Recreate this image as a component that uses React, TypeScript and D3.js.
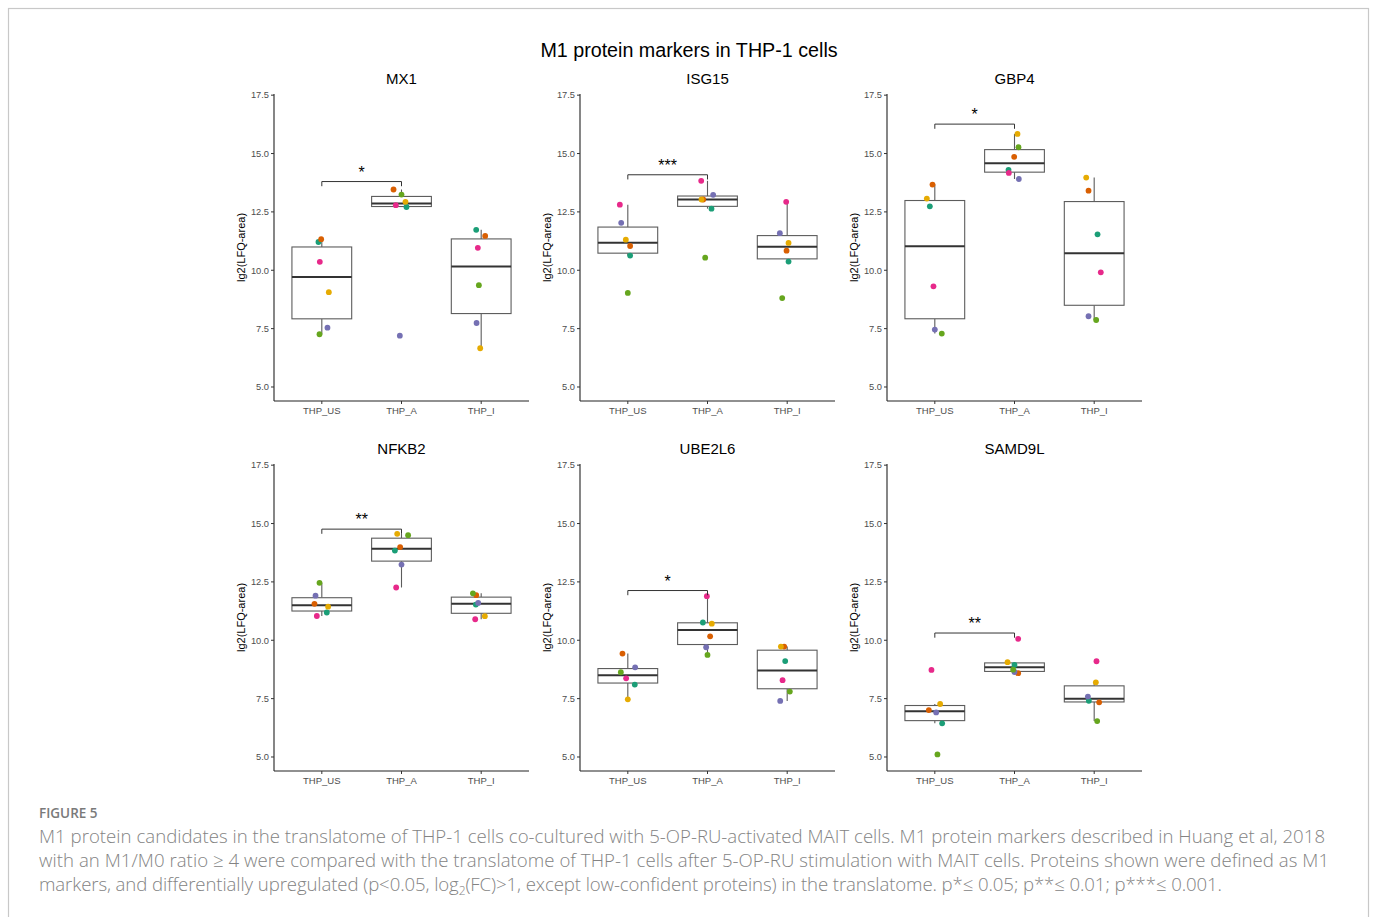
import React from "react";
import * as d3 from "d3";

// ---------- data ----------
const groups = ["THP_US", "THP_A", "THP_I"];
const proteins = ["MX1", "ISG15", "GBP4", "NFKB2", "UBE2L6", "SAMD9L"];
// donor order: teal, orange, purple, pink, green, yellow (Dark2)
const donorColors = ["#1B9E77", "#D95F02", "#7570B3", "#E7298A", "#66A61E", "#E6AB02"];

const MX1 = [
  [11.21, 11.33, 7.54, 10.36, 7.26, 9.06],
  [12.71, 13.46, 7.2, 12.79, 13.24, 12.93],
  [11.73, 11.47, 7.74, 10.96, 9.36, 6.66],
];
const ISG15 = [
  [10.63, 11.04, 12.03, 12.81, 9.03, 11.31],
  [12.64, 13.03, 13.23, 13.83, 10.54, 13.03],
  [10.37, 10.84, 11.59, 12.93, 8.81, 11.17],
];
const GBP4 = [
  [12.74, 13.67, 7.46, 9.31, 7.29, 13.07],
  [14.3, 14.86, 13.91, 14.17, 15.27, 15.84],
  [11.54, 13.41, 8.03, 9.91, 7.87, 13.97],
];
const NFKB2 = [
  [11.19, 11.56, 11.91, 11.04, 12.46, 11.44],
  [13.84, 13.99, 13.24, 12.26, 14.5, 14.56],
  [11.53, 11.93, 11.6, 10.9, 12.01, 11.03],
];
const UBE2L6 = [
  [8.1, 9.43, 8.84, 8.37, 8.63, 7.47],
  [10.76, 10.17, 9.7, 11.89, 9.37, 10.71],
  [9.11, 9.73, 7.4, 8.29, 7.8, 9.73],
];
const SAMD9L = [
  [6.44, 7.01, 6.91, 8.73, 5.11, 7.27],
  [8.94, 8.59, 8.64, 10.06, 8.74, 9.06],
  [7.41, 7.34, 7.59, 9.1, 6.54, 8.2],
];
// horizontal jitter, in category units
const MX1_jitter = [
  [-0.042, -0.008, 0.071, -0.025, -0.029, 0.088],
  [0.0625, -0.1, -0.021, -0.071, 0, 0.05],
  [-0.0625, 0.05, -0.058, -0.042, -0.029, -0.0125],
];
const ISG15_jitter = [
  [0.029, 0.029, -0.083, -0.1, 0, -0.025],
  [0.05, -0.054, 0.071, -0.079, -0.029, -0.075],
  [0.017, -0.008, -0.092, -0.0125, -0.0625, 0.017],
];
const GBP4_jitter = [
  [-0.0625, -0.029, 0, -0.017, 0.0875, -0.1],
  [-0.075, -0.004, 0.054, -0.071, 0.05, 0.0375],
  [0.042, -0.071, -0.071, 0.083, 0.025, -0.1],
];
const NFKB2_jitter = [
  [0.0625, -0.092, -0.079, -0.0625, -0.029, 0.079],
  [-0.083, -0.017, 0, -0.067, 0.083, -0.054],
  [-0.067, -0.0625, -0.0375, -0.075, -0.104, 0.046],
];
const UBE2L6_jitter = [
  [0.0875, -0.067, 0.092, -0.021, -0.0875, 0],
  [-0.058, 0.033, -0.017, -0.008, 0, 0.054],
  [-0.025, -0.0375, -0.0875, -0.058, 0.033, -0.079],
];
const SAMD9L_jitter = [
  [0.092, -0.075, 0.017, -0.042, 0.033, 0.067],
  [0, 0.046, 0, 0.046, -0.017, -0.0875],
  [-0.067, 0.0625, -0.079, 0.029, 0.0375, 0.021],
];
const proteinValues = [MX1, ISG15, GBP4, NFKB2, UBE2L6, SAMD9L];
const proteinJitter = [MX1_jitter, ISG15_jitter, GBP4_jitter, NFKB2_jitter, UBE2L6_jitter, SAMD9L_jitter];

const sigLabels = ["*", "***", "*", "**", "*", "**"];
const sigHeights = [13.8, 14.09, 16.26, 14.76, 12.13, 10.31];

const yTicks = [5.0, 7.5, 10.0, 12.5, 15.0, 17.5];
const yDomain = [4.4, 17.55];

const mainTitle = "M1 protein markers in THP-1 cells";
const yLabel = "lg2(LFQ-area)";
const figureLabel = "FIGURE 5";
const captionLine1 =
  "M1 protein candidates in the translatome of THP-1 cells co-cultured with 5-OP-RU-activated MAIT cells. M1 protein markers described in Huang et al, 2018";
const captionLine2 =
  "with an M1/M0 ratio ≥ 4 were compared with the translatome of THP-1 cells after 5-OP-RU stimulation with MAIT cells. Proteins shown were defined as M1";
const captionLine3a = "markers, and differentially upregulated (p<0.05, log";
const captionLine3b = "(FC)>1, except low-confident proteins) in the translatome. p*≤ 0.05; p**≤ 0.01; p***≤ 0.001.";

// ---------- layout ----------
const W = 1375;
const H = 917;
const colX = [274, 580, 887];
const rowTop = [94, 464];
const plotW = 255;
const plotH = 307;

function boxStats(vals: number[]) {
  const s = [...vals].sort(d3.ascending);
  const q1 = d3.quantile(s, 0.25) as number;
  const med = d3.quantile(s, 0.5) as number;
  const q3 = d3.quantile(s, 0.75) as number;
  const iqr = q3 - q1;
  const lo = d3.min(s.filter((v) => v >= q1 - 1.5 * iqr)) as number;
  const hi = d3.max(s.filter((v) => v <= q3 + 1.5 * iqr)) as number;
  return { q1, med, q3, lo, hi };
}

const ARIAL = "Liberation Sans, Arial, Helvetica, sans-serif";

function Panel({ idx }: { idx: number }) {
  const col = idx % 3;
  const row = Math.floor(idx / 3);
  const x0 = colX[col];
  const top = rowTop[row];
  const bottom = top + plotH;
  const x = d3.scalePoint<string>().domain(groups).range([x0, x0 + plotW]).padding(0.6);
  const step = x.step();
  const y = d3.scaleLinear().domain(yDomain).range([bottom, top]);
  const values = proteinValues[idx];
  const jit = proteinJitter[idx];
  const boxW = step * 0.75;
  const boxStroke = "#5c5c5c";

  const xa = x(groups[0]) as number;
  const xb = x(groups[1]) as number;
  const sh = sigHeights[idx];

  return (
    <g>
      <text
        x={x0 + plotW / 2}
        y={top - 10}
        textAnchor="middle"
        fontFamily={ARIAL}
        fontSize={15}
        fill="#000"
      >
        {proteins[idx]}
      </text>
      {groups.map((g, gi) => {
        const st = boxStats(values[gi]);
        const cx = x(g) as number;
        return (
          <g key={g}>
            <line x1={cx} x2={cx} y1={y(st.q3)} y2={y(st.hi)} stroke={boxStroke} strokeWidth={1.1} />
            <line x1={cx} x2={cx} y1={y(st.q1)} y2={y(st.lo)} stroke={boxStroke} strokeWidth={1.1} />
            <rect
              x={cx - boxW / 2}
              y={y(st.q3)}
              width={boxW}
              height={y(st.q1) - y(st.q3)}
              fill="#fff"
              stroke={boxStroke}
              strokeWidth={1.1}
            />
            <line
              x1={cx - boxW / 2}
              x2={cx + boxW / 2}
              y1={y(st.med)}
              y2={y(st.med)}
              stroke="#333"
              strokeWidth={2}
            />
          </g>
        );
      })}
      {groups.map((g, gi) =>
        values[gi].map((v, di) => (
          <circle
            key={g + di}
            cx={(x(g) as number) + jit[gi][di] * step}
            cy={y(v)}
            r={2.9}
            fill={donorColors[di]}
          />
        ))
      )}
      <path
        d={`M${xa},${y(sh - 0.2)}V${y(sh)}H${xb}V${y(sh - 0.2)}`}
        fill="none"
        stroke="#333"
        strokeWidth={1}
      />
      <text
        x={(xa + xb) / 2}
        y={y(sh) - 4}
        textAnchor="middle"
        fontFamily={ARIAL}
        fontSize={16}
        fill="#000"
      >
        {sigLabels[idx]}
      </text>
      <line x1={x0} x2={x0} y1={top} y2={bottom} stroke="#222" strokeWidth={1.1} />
      <line x1={x0} x2={x0 + plotW} y1={bottom} y2={bottom} stroke="#222" strokeWidth={1.1} />
      {yTicks.map((t) => (
        <g key={t}>
          <line x1={x0 - 3} x2={x0} y1={y(t)} y2={y(t)} stroke="#333" strokeWidth={1} />
          <text
            x={x0 - 5}
            y={y(t)}
            dy="0.35em"
            textAnchor="end"
            fontFamily={ARIAL}
            fontSize={9.3}
            fill="#4d4d4d"
          >
            {t.toFixed(1)}
          </text>
        </g>
      ))}
      {groups.map((g) => (
        <g key={g}>
          <line x1={x(g) as number} x2={x(g) as number} y1={bottom} y2={bottom + 3} stroke="#333" strokeWidth={1} />
          <text
            x={x(g) as number}
            y={bottom + 13}
            textAnchor="middle"
            fontFamily={ARIAL}
            fontSize={9.5}
            fill="#4d4d4d"
          >
            {g}
          </text>
        </g>
      ))}
      <text
        transform={`translate(${x0 - 29},${(top + bottom) / 2}) rotate(-90)`}
        textAnchor="middle"
        fontFamily={ARIAL}
        fontSize={11}
        fill="#000"
      >
        {yLabel}
      </text>
    </g>
  );
}

export default function App() {
  const capFont = "'Open Sans', 'Noto Sans', sans-serif";
  const capColor = "#838383";
  const capSize = 18.6;
  return (
    <div style={{ position: "absolute", left: 0, top: 0 }}>
      <svg width={W} height={H} viewBox={`0 0 ${W} ${H}`} style={{ display: "block" }}>
        <rect x={0} y={0} width={W} height={H} fill="#fff" />
        <rect x={8.5} y={8.5} width={1360} height={920} fill="none" stroke="#c8c8c8" strokeWidth={1.2} />
        <text x={689} y={57} textAnchor="middle" fontFamily={ARIAL} fontSize={19.7} fill="#000">
          {mainTitle}
        </text>
        {proteins.map((p, i) => (
          <Panel key={p} idx={i} />
        ))}
        <text x={39} y={818} fontFamily={capFont} fontSize={13.5} fontWeight={600} fill="#7a7a7a">
          {figureLabel}
        </text>
        <text x={39} y={843} fontFamily={capFont} fontSize={capSize} fontWeight={300} fill={capColor}
          textLength={1286} lengthAdjust="spacing">
          {captionLine1}
        </text>
        <text x={39} y={867} fontFamily={capFont} fontSize={capSize} fontWeight={300} fill={capColor}
          textLength={1290} lengthAdjust="spacing">
          {captionLine2}
        </text>
        <text x={39} y={891} fontFamily={capFont} fontSize={capSize} fontWeight={300} fill={capColor}
          textLength={1183} lengthAdjust="spacing">
          {captionLine3a}
          <tspan dy={4} fontSize={12}>2</tspan>
          <tspan dy={-4}>{captionLine3b}</tspan>
        </text>
      </svg>
    </div>
  );
}
